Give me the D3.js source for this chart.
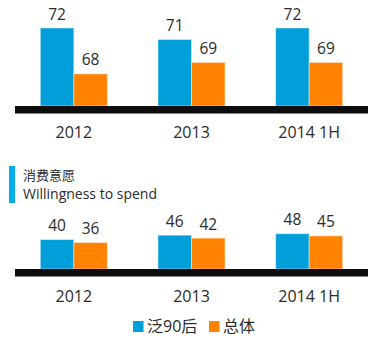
<!DOCTYPE html>
<html>
<head>
<meta charset="utf-8">
<script src="https://cdn.jsdelivr.net/npm/d3@7"></script>
<style>
  body { margin: 0; background: #fff; }
  text { font-family: "Open Sans", "Noto Sans CJK SC", sans-serif; fill: #2b2b2b; }
</style>
</head>
<body>
<div id="chart"></div>
<script>
const categories = ["2012", "2013", "2014 1H"];
const seriesNames = ["泛90后", "总体"];
const topValues = [[72, 68], [71, 69], [72, 69]];
const bottomValues = [[40, 36], [46, 42], [48, 45]];
const colors = ["#009FDA", "#FF8200"];

const width = 377, height = 350;
const svg = d3.select("#chart").append("svg")
  .attr("width", width)
  .attr("height", height);

const x0 = d3.scaleBand()
  .domain(categories)
  .range([15, 368])
  .paddingInner(0.43)
  .paddingOuter(0.215);

const x1 = d3.scaleBand()
  .domain(d3.range(seriesNames.length))
  .range([0, x0.bandwidth()]);

function drawPanel(values, y, baseY, labelY) {
  const g = svg.append("g");

  categories.forEach((cat, i) => {
    values[i].forEach((v, j) => {
      const bx = x0(cat) + x1(j);
      g.append("rect")
        .attr("x", bx)
        .attr("y", y(v))
        .attr("width", x1.bandwidth())
        .attr("height", baseY - y(v))
        .attr("fill", colors[j])
        .attr("stroke", "rgba(255,255,255,0.45)")
        .attr("stroke-width", 1);

      g.append("text")
        .attr("x", bx + x1.bandwidth() / 2)
        .attr("y", y(v) - 8.5)
        .attr("text-anchor", "middle")
        .attr("font-size", "15.5px")
        .text(v);
    });

    g.append("text")
      .attr("x", x0(cat) + x0.bandwidth() / 2)
      .attr("y", labelY)
      .attr("text-anchor", "middle")
      .attr("font-size", "16px")
      .text(cat);
  });

  // thick baseline
  g.append("rect")
    .attr("x", x0.range()[0])
    .attr("y", baseY)
    .attr("width", x0.range()[1] - x0.range()[0])
    .attr("height", 7.5)
    .attr("fill", "#0D0D0D");
}

// upper panel uses a truncated scale
const yTop = d3.scaleLinear().domain([65.2, 72]).range([106, 28]);
drawPanel(topValues, yTop, 106, 138);

// section header
svg.append("rect")
  .attr("x", 9).attr("y", 166)
  .attr("width", 6).attr("height", 37)
  .attr("fill", "#00AEEF");
svg.append("text")
  .attr("x", 23).attr("y", 179.5)
  .attr("font-size", "13px")
  .text("消费意愿");
svg.append("text")
  .attr("x", 23).attr("y", 198.5)
  .attr("font-size", "14px")
  .text("Willingness to spend");

const yBottom = d3.scaleLinear().domain([0, 48]).range([269, 233.7]);
drawPanel(bottomValues, yBottom, 269, 302);

// legend
const legend = svg.append("g");
const legendX = [133, 209];
seriesNames.forEach((name, j) => {
  legend.append("rect")
    .attr("x", legendX[j]).attr("y", 321)
    .attr("width", 10.5).attr("height", 11)
    .attr("fill", colors[j]);
  legend.append("text")
    .attr("x", legendX[j] + 14).attr("y", 332)
    .attr("font-size", "16px")
    .text(name);
});
</script>
</body>
</html>
